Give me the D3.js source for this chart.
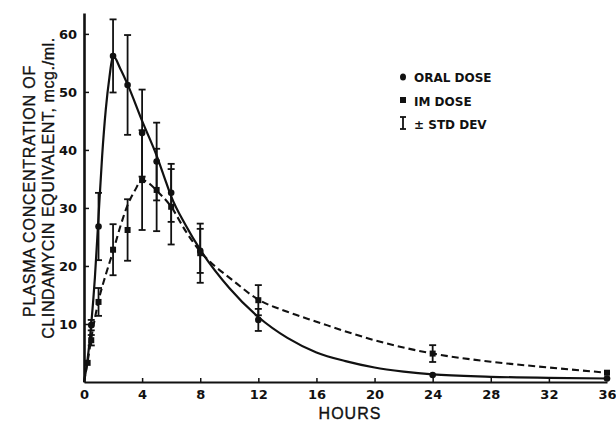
<!DOCTYPE html>
<html>
<head>
<meta charset="utf-8">
<script src="https://cdn.jsdelivr.net/npm/d3@7"></script>
<style>
  body { margin: 0; background: #fff; }
  .tick text { font-family: "DejaVu Sans", sans-serif; font-weight: bold; font-size: 13px; fill: #111; }
  .aText { font-family: "Liberation Sans", Arial, sans-serif; fill: #111; stroke: #111; stroke-width: 0.35px; }
  .legend { font-family: "DejaVu Sans", sans-serif; font-weight: bold; font-size: 12px; fill: #111; }
</style>
</head>
<body>
<div id="chart"></div>
<script>
// Measured points (hours, mean, std dev)
var oralHours = [0.5, 1, 2, 3, 4, 5, 6, 8, 12, 24, 36];
var oralMean  = [9.8, 26.8, 56.2, 51.2, 42.9, 38.0, 32.6, 22.6, 10.7, 1.2, 0.6];
var oralSD    = [0.9, 5.8, 6.3, 8.6, 7.5, 6.7, 5.0, 3.8, 1.9, 0, 0];

var imHours = [0.25, 0.5, 1, 2, 3, 4, 5, 6, 8, 12, 24, 36];
var imMean  = [3.3, 7.2, 13.8, 22.8, 26.2, 34.8, 33.1, 30.2, 22.2, 14.1, 4.9, 1.6];
var imSD    = [0, 0.9, 2.4, 4.4, 5.3, 8.6, 7.1, 6.5, 5.1, 2.6, 1.45, 0];

// Fitted curves
var oralCurveH = [0, 0.25, 0.5, 0.75, 1, 1.25, 1.5, 1.75, 2, 2.5, 3, 4, 5, 5.5, 6, 7, 8, 10, 12, 14, 16, 18, 20, 22, 24, 28, 32, 36];
var oralCurveV = [0, 4, 10, 18, 28.5, 39, 47, 52.5, 56.2, 54, 51.3, 45, 39, 35.5, 32, 27, 22.8, 16.2, 11.2, 7.6, 5.1, 3.6, 2.5, 1.8, 1.3, 0.9, 0.7, 0.6];

var imCurveH = [0, 0.25, 0.5, 0.75, 1, 1.5, 2, 2.5, 3, 3.5, 4, 4.5, 5, 6, 7, 8, 9, 10, 12, 14, 16, 20, 24, 28, 32, 36];
var imCurveV = [0, 3.5, 7.5, 11, 14, 18.5, 22.5, 26.8, 30.5, 33, 34.8, 34.2, 33, 30.2, 26, 22.5, 20, 18, 14.2, 12.1, 10.4, 7.2, 4.9, 3.5, 2.5, 1.6];

var xTicks = [0, 4, 8, 12, 16, 20, 24, 28, 32, 36];
var yTicks = [10, 20, 30, 40, 50, 60];

var svgWidth = 616;
var svgHeight = 429;

var svg = d3.select("#chart")
  .append("svg")
  .attr("width", svgWidth)
  .attr("height", svgHeight);

var x = d3.scaleLinear().domain([0, 36]).range([84, 607]);
var y = d3.scaleLinear().domain([0, 63.6]).range([382, 13]);

// Axes, ticks pointing inward
var xAxis = d3.axisBottom(x).tickValues(xTicks).tickSizeInner(-4).tickSizeOuter(0).tickPadding(8);
var yAxis = d3.axisLeft(y).tickValues(yTicks).tickSizeInner(-5).tickSizeOuter(0).tickPadding(7);

var gx = svg.append("g")
  .attr("transform", "translate(0," + y(0) + ")")
  .call(xAxis);
gx.select(".domain").attr("stroke", "#111").attr("stroke-width", 2.2);
gx.selectAll(".tick line").attr("stroke", "#111").attr("stroke-width", 1.5)
  .style("display", d => (d === 0 || d === 36) ? "none" : null);

var gy = svg.append("g")
  .attr("transform", "translate(" + x(0) + ",0)")
  .call(yAxis);
gy.select(".domain").attr("stroke", "#111").attr("stroke-width", 2.6);
gy.selectAll(".tick line").attr("stroke", "#111").attr("stroke-width", 1.5);

// Curves
var line = d3.line()
  .x(d => x(d[0]))
  .y(d => y(d[1]))
  .curve(d3.curveMonotoneX);

svg.append("path")
  .datum(oralCurveH.map((h, i) => [h, oralCurveV[i]]))
  .attr("d", line)
  .attr("fill", "none")
  .attr("stroke", "#111")
  .attr("stroke-width", 2.2);

svg.append("path")
  .datum(imCurveH.map((h, i) => [h, imCurveV[i]]))
  .attr("d", line)
  .attr("fill", "none")
  .attr("stroke", "#111")
  .attr("stroke-width", 2.1)
  .attr("stroke-dasharray", "7,4");

// Error bars
function errorBars(hours, mean, sd) {
  var data = hours.map((h, i) => ({h: h, m: mean[i], s: sd[i]})).filter(d => d.s > 0);
  var g = svg.append("g").attr("stroke", "#111").attr("stroke-width", 1.8);
  data.forEach(function(d) {
    var cx = x(d.h);
    g.append("line").attr("x1", cx).attr("x2", cx)
      .attr("y1", y(d.m + d.s)).attr("y2", y(d.m - d.s));
    [d.m + d.s, d.m - d.s].forEach(function(v) {
      g.append("line").attr("x1", cx - 3.5).attr("x2", cx + 3.5)
        .attr("y1", y(v)).attr("y2", y(v));
    });
  });
}
errorBars(oralHours, oralMean, oralSD);
errorBars(imHours, imMean, imSD);

// Markers
svg.append("g").selectAll("circle")
  .data(oralHours.map((h, i) => [h, oralMean[i]]))
  .enter()
  .append("circle")
  .attr("cx", d => x(d[0]))
  .attr("cy", d => y(d[1]))
  .attr("r", 3.3)
  .attr("fill", "#111");

svg.append("g").selectAll("rect")
  .data(imHours.map((h, i) => [h, imMean[i]]))
  .enter()
  .append("rect")
  .attr("x", d => x(d[0]) - 3)
  .attr("y", d => y(d[1]) - 3)
  .attr("width", 6)
  .attr("height", 6)
  .attr("fill", "#111");

// Legend
var lg = svg.append("g");
lg.append("ellipse").attr("cx", 403).attr("cy", 77).attr("rx", 3).attr("ry", 3.6).attr("fill", "#111");
lg.append("text").attr("class", "legend").attr("x", 414).attr("y", 81.5).text("ORAL DOSE");
lg.append("rect").attr("x", 400).attr("y", 97).attr("width", 6).attr("height", 6).attr("fill", "#111");
lg.append("text").attr("class", "legend").attr("x", 414).attr("y", 105.5).text("IM DOSE");
var ig = lg.append("g").attr("stroke", "#111").attr("stroke-width", 1.8);
ig.append("line").attr("x1", 403).attr("x2", 403).attr("y1", 117).attr("y2", 129);
ig.append("line").attr("x1", 400).attr("x2", 406).attr("y1", 117).attr("y2", 117);
ig.append("line").attr("x1", 400).attr("x2", 406).attr("y1", 129).attr("y2", 129);
lg.append("text").attr("class", "legend").attr("x", 414).attr("y", 129).text("± STD DEV");

// Axis labels
svg.append("text")
  .attr("class", "aText")
  .attr("x", 350).attr("y", 419)
  .attr("text-anchor", "middle")
  .style("font-size", "16px")
  .style("letter-spacing", "1px")
  .text("HOURS");

svg.append("text")
  .attr("class", "aText")
  .attr("transform", "translate(35,191) rotate(-90)")
  .attr("text-anchor", "middle")
  .style("font-size", "16px")
  .style("letter-spacing", "0.8px")
  .text("PLASMA CONCENTRATION OF");

svg.append("text")
  .attr("class", "aText")
  .attr("transform", "translate(54,188) rotate(-90)")
  .attr("text-anchor", "middle")
  .style("font-size", "16px")
  .style("letter-spacing", "0.6px")
  .text("CLINDAMYCIN EQUIVALENT, mcg./ml.");
</script>
</body>
</html>
